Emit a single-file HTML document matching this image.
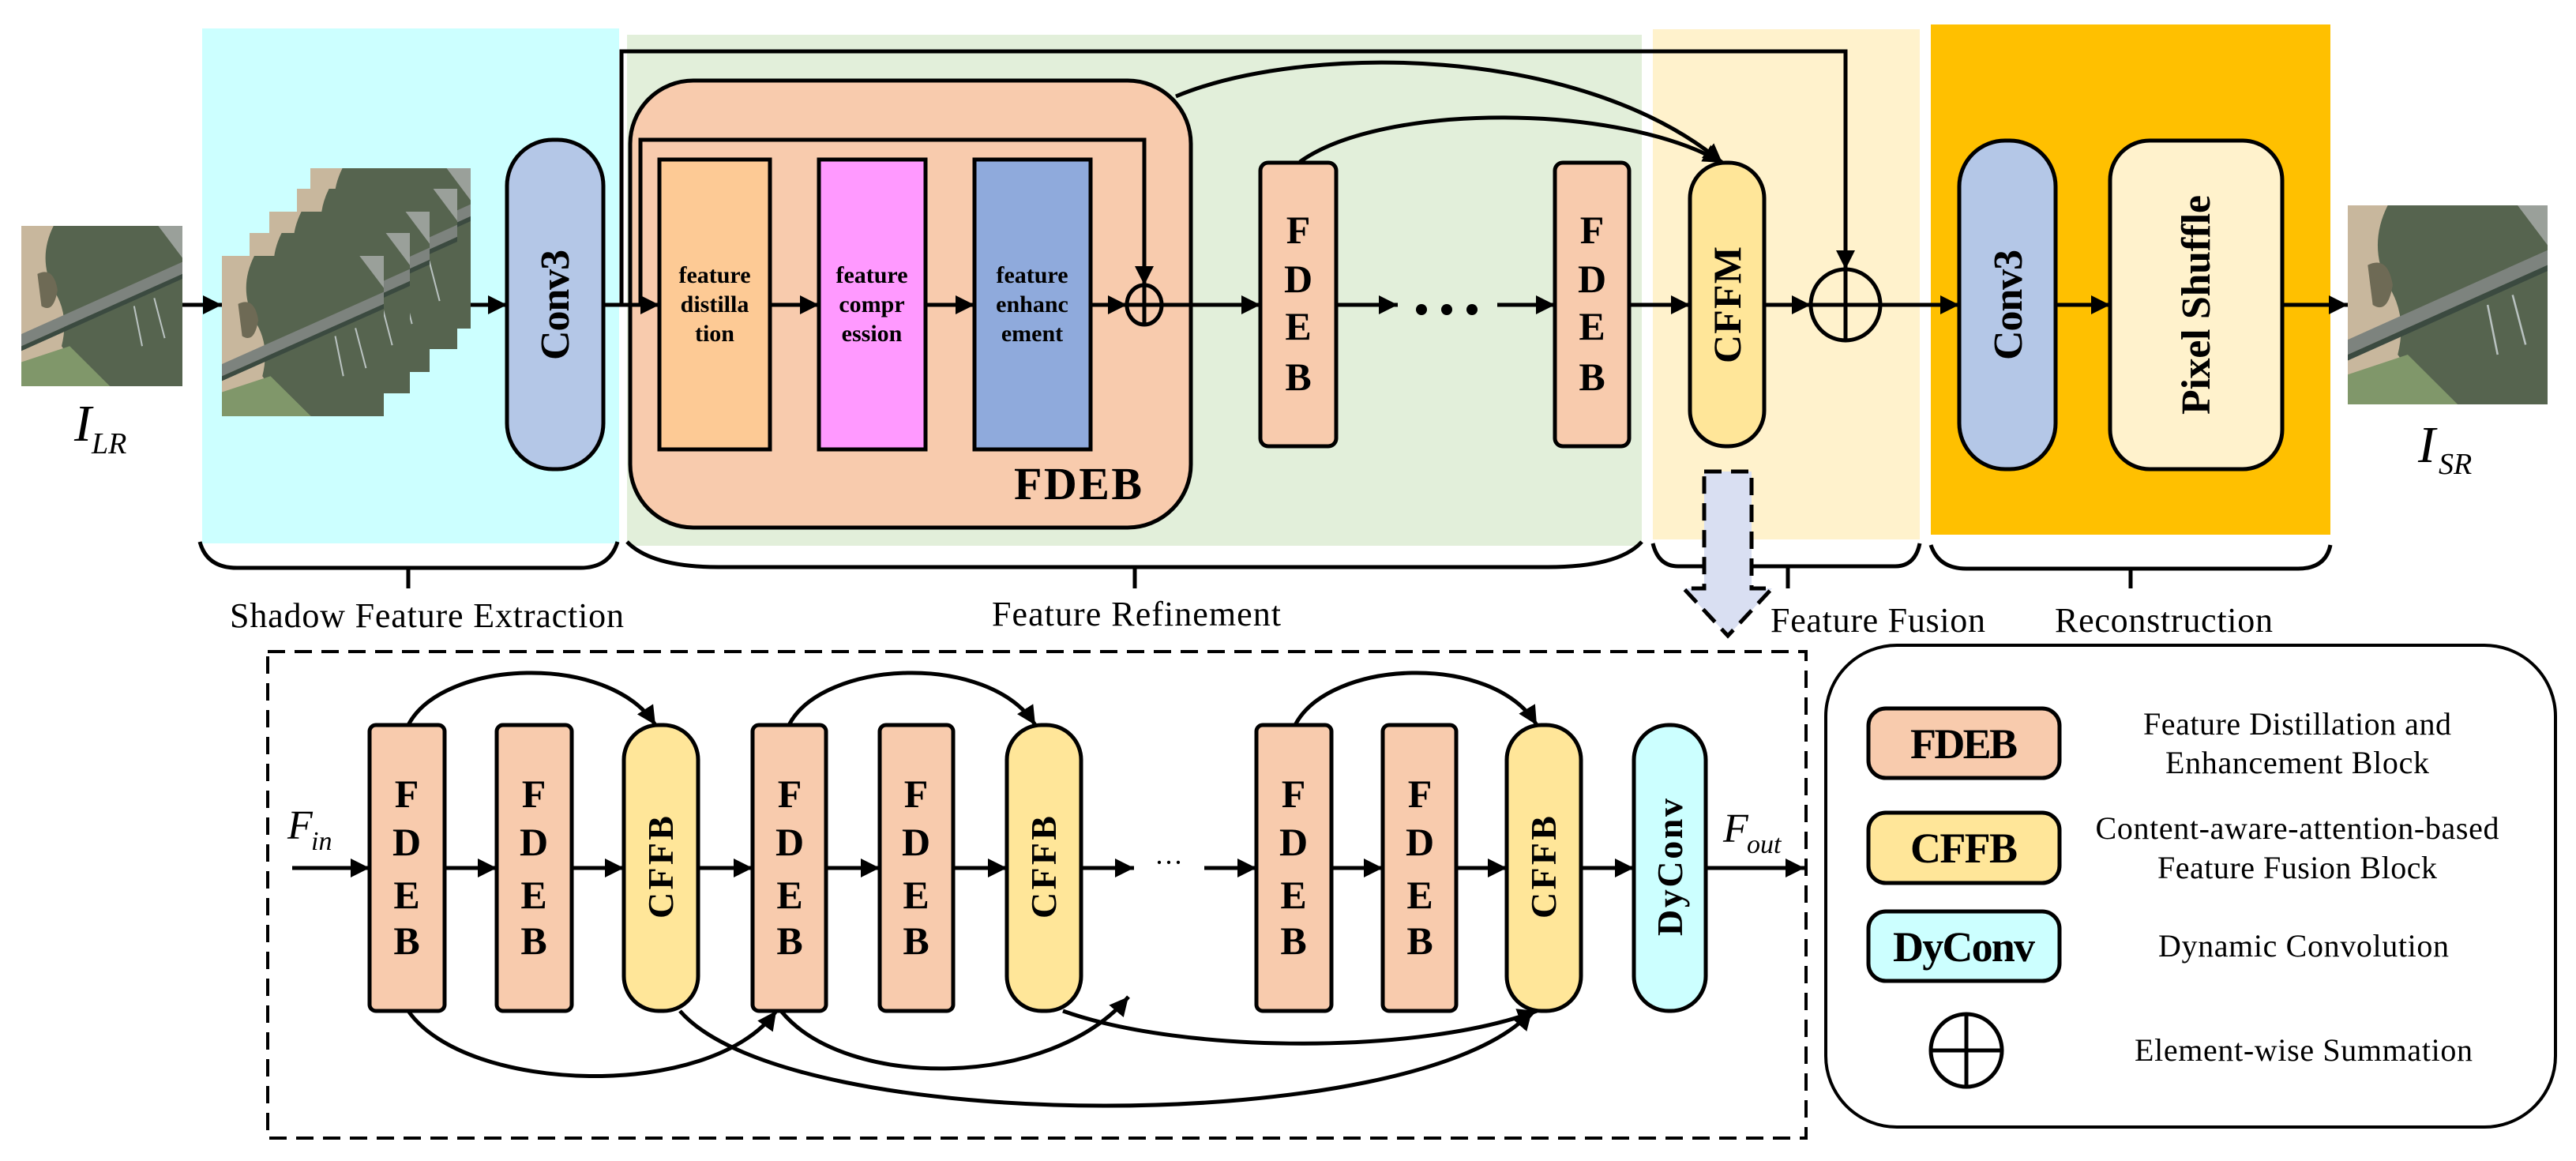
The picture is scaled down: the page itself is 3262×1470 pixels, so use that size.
<!DOCTYPE html>
<html><head><meta charset="utf-8"><style>html,body{margin:0;padding:0;background:#fff}svg{display:block}</style></head>
<body>
<svg width="3262" height="1470" viewBox="0 0 3262 1470" xmlns="http://www.w3.org/2000/svg" font-family="'Liberation Serif', serif">
<defs>
<marker id="ah" viewBox="0 0 10 10" markerUnits="userSpaceOnUse" markerWidth="24" markerHeight="30" refX="10" refY="5" orient="auto"><path d="M0,0 L10,5 L0,10 z" fill="#000"/></marker>
<symbol id="aer" viewBox="0 0 200 200" preserveAspectRatio="none">
<rect width="200" height="200" fill="#56644f"/>
<path d="M0,0 L40,0 Q20,40 40,80 Q60,110 50,150 Q70,180 110,200 L0,200 z" fill="#c8b79d"/>
<path d="M20,60 Q40,50 45,80 Q40,110 25,100 z" fill="#6e6a55"/>
<path d="M0,170 L60,150 L110,200 L0,200 z" fill="#80976a"/>
<path d="M0,135 L200,45 L200,60 L0,150 z" fill="#7d837e"/>
<path d="M0,150 L200,60 L200,66 L0,156 z" fill="#3b4a40"/>
<path d="M170,0 L200,0 L200,40 Q185,20 170,0 z" fill="#9aa09a"/>
<path d="M140,100 L150,150 M165,90 L178,140" stroke="#b9c2c0" stroke-width="2"/>
</symbol>
</defs>

<rect x="256" y="36" width="528" height="652" fill="#ccffff"/>
<rect x="794" y="44" width="1285" height="647" fill="#e2efda"/>
<rect x="2093" y="37" width="338" height="646" fill="#fff2cc"/>
<rect x="2445" y="31" width="506" height="646" fill="#ffc000"/>

<use href="#aer" x="27" y="286" width="204" height="203"/>
<use href="#aer" x="393" y="213" width="203" height="203"/>
<use href="#aer" x="376" y="239" width="203" height="203"/>
<use href="#aer" x="341" y="268" width="203" height="203"/>
<use href="#aer" x="316" y="295" width="203" height="203"/>
<use href="#aer" x="281" y="324" width="205" height="203"/>
<use href="#aer" x="2973" y="260" width="253" height="252"/>

<text x="94" y="558" font-size="66" font-style="italic">I</text>
<text x="116" y="574" font-size="38" font-style="italic">LR</text>
<text x="3062" y="585" font-size="66" font-style="italic">I</text>
<text x="3088" y="600" font-size="38" font-style="italic">SR</text>

<rect x="642" y="177" width="122" height="417" rx="58" fill="#b4c7e7" stroke="#000" stroke-width="5"/>
<text transform="translate(720,386) rotate(-90)" text-anchor="middle" font-size="52" font-weight="bold" textLength="140">Conv3</text>

<rect x="798" y="102" width="710" height="566" rx="80" fill="#f8cbad" stroke="#000" stroke-width="5"/>
<rect x="835" y="202" width="140" height="367" fill="#fdca95" stroke="#000" stroke-width="5"/>
<rect x="1037" y="202" width="135" height="367" fill="#ff99ff" stroke="#000" stroke-width="5"/>
<rect x="1234" y="202" width="147" height="367" fill="#8faadc" stroke="#000" stroke-width="5"/>
<g font-size="30" font-weight="bold" text-anchor="middle">
<text x="905" y="358">feature</text><text x="905" y="395">distilla</text><text x="905" y="432">tion</text>
<text x="1104" y="358">feature</text><text x="1104" y="395">compr</text><text x="1104" y="432">ession</text>
<text x="1307" y="358">feature</text><text x="1307" y="395">enhanc</text><text x="1307" y="432">ement</text>
</g>
<text x="1365" y="632" text-anchor="middle" font-size="58" font-weight="bold" textLength="162">FDEB</text>

<rect x="1596" y="206" width="96" height="359" rx="10" fill="#f8cbad" stroke="#000" stroke-width="5"/>
<rect x="1969" y="206" width="94" height="359" rx="10" fill="#f8cbad" stroke="#000" stroke-width="5"/>
<g font-size="50" font-weight="bold" text-anchor="middle">
<text x="1644" y="308">F</text><text x="1644" y="370">D</text><text x="1644" y="430">E</text><text x="1644" y="494">B</text>
<text x="2016" y="308">F</text><text x="2016" y="370">D</text><text x="2016" y="430">E</text><text x="2016" y="494">B</text>
</g>
<g fill="#000"><circle cx="1800" cy="392" r="7"/><circle cx="1832" cy="392" r="7"/><circle cx="1864" cy="392" r="7"/></g>

<rect x="2140" y="206" width="94" height="359" rx="45" fill="#ffe699" stroke="#000" stroke-width="5"/>
<text transform="translate(2204,386) rotate(-90)" text-anchor="middle" font-size="50" font-weight="bold" textLength="148">CFFM</text>

<rect x="2481" y="178" width="122" height="416" rx="58" fill="#b4c7e7" stroke="#000" stroke-width="5"/>
<text transform="translate(2560,386) rotate(-90)" text-anchor="middle" font-size="52" font-weight="bold" textLength="140">Conv3</text>
<rect x="2672" y="178" width="218" height="416" rx="50" fill="#fff2cc" stroke="#000" stroke-width="5"/>
<text transform="translate(2798,386) rotate(-90)" text-anchor="middle" font-size="52" font-weight="bold" textLength="278">Pixel Shuffle</text>

<g stroke="#000" stroke-width="5" fill="none">
<line x1="231" y1="386" x2="281" y2="386" marker-end="url(#ah)"/>
<line x1="596" y1="386" x2="642" y2="386" marker-end="url(#ah)"/>
<line x1="764" y1="386" x2="835" y2="386" marker-end="url(#ah)"/>
<line x1="975" y1="386" x2="1037" y2="386" marker-end="url(#ah)"/>
<line x1="1172" y1="386" x2="1234" y2="386" marker-end="url(#ah)"/>
<line x1="1381" y1="386" x2="1427" y2="386" marker-end="url(#ah)"/>
<line x1="1471" y1="386" x2="1596" y2="386" marker-end="url(#ah)"/>
<line x1="1692" y1="386" x2="1770" y2="386" marker-end="url(#ah)"/>
<line x1="1896" y1="386" x2="1969" y2="386" marker-end="url(#ah)"/>
<line x1="2063" y1="386" x2="2140" y2="386" marker-end="url(#ah)"/>
<line x1="2234" y1="386" x2="2293" y2="386" marker-end="url(#ah)"/>
<line x1="2381" y1="386" x2="2481" y2="386" marker-end="url(#ah)"/>
<line x1="2603" y1="386" x2="2672" y2="386" marker-end="url(#ah)"/>
<line x1="2890" y1="386" x2="2973" y2="386" marker-end="url(#ah)"/>
<path d="M787 386 L787 65 L2337 65 L2337 341" marker-end="url(#ah)"/>
<path d="M811 386 L811 177 L1449 177 L1449 361" marker-end="url(#ah)"/>
<ellipse cx="1449" cy="386" rx="22" ry="25"/>
<line x1="1427" y1="386" x2="1471" y2="386"/><line x1="1449" y1="361" x2="1449" y2="411"/>
<ellipse cx="2337" cy="386" rx="44" ry="45"/>
<line x1="2293" y1="386" x2="2381" y2="386"/><line x1="2337" y1="341" x2="2337" y2="431"/>
<path d="M1489 122 C1650 55, 2000 55, 2181 206" marker-end="url(#ah)"/>
<path d="M1646 205 C1750 130, 2050 130, 2181 206" marker-end="url(#ah)"/>
<path d="M253 686 Q262 719 300 719 L735 719 Q772 719 782 686 M517 719 L517 745"/>
<path d="M794 686 Q825 718 910 718 L1960 718 Q2050 718 2079 686 M1437 718 L1437 745"/>
<path d="M2093 688 Q2100 717 2125 717 L2400 717 Q2425 717 2431 688 M2264 717 L2264 745"/>
<path d="M2445 690 Q2455 720 2490 720 L2910 720 Q2945 720 2951 690 M2698 720 L2698 745"/>
</g>

<path d="M2158 597 L2218 597 L2218 745 L2244 745 L2188 805 L2132 745 L2158 745 z" fill="#d9dff2" stroke="#000" stroke-width="5" stroke-dasharray="22,12"/>

<g font-size="44">
<text x="291" y="794" textLength="499">Shadow Feature Extraction</text>
<text x="1256" y="792" textLength="366">Feature Refinement</text>
<text x="2242" y="800" textLength="272">Feature Fusion</text>
<text x="2602" y="800" textLength="276">Reconstruction</text>
</g>

<rect x="339" y="825" width="1948" height="616" fill="none" stroke="#000" stroke-width="4" stroke-dasharray="22,12"/>

<g stroke="#000" stroke-width="5">
<rect x="468" y="918" width="95" height="362" rx="8" fill="#f8cbad"/>
<rect x="629" y="918" width="95" height="362" rx="8" fill="#f8cbad"/>
<rect x="790" y="918" width="94" height="362" rx="44" fill="#ffe699"/>
<rect x="953" y="918" width="93" height="362" rx="8" fill="#f8cbad"/>
<rect x="1114" y="918" width="93" height="362" rx="8" fill="#f8cbad"/>
<rect x="1275" y="918" width="94" height="362" rx="44" fill="#ffe699"/>
<rect x="1591" y="918" width="95" height="362" rx="8" fill="#f8cbad"/>
<rect x="1751" y="918" width="93" height="362" rx="8" fill="#f8cbad"/>
<rect x="1908" y="918" width="94" height="362" rx="44" fill="#ffe699"/>
<rect x="2069" y="918" width="91" height="362" rx="44" fill="#ccffff"/>
</g>
<g font-size="50" font-weight="bold" text-anchor="middle">
<g transform="translate(515,0)"><text y="1022">F</text><text y="1083">D</text><text y="1150">E</text><text y="1208">B</text></g>
<g transform="translate(676,0)"><text y="1022">F</text><text y="1083">D</text><text y="1150">E</text><text y="1208">B</text></g>
<g transform="translate(1000,0)"><text y="1022">F</text><text y="1083">D</text><text y="1150">E</text><text y="1208">B</text></g>
<g transform="translate(1160,0)"><text y="1022">F</text><text y="1083">D</text><text y="1150">E</text><text y="1208">B</text></g>
<g transform="translate(1638,0)"><text y="1022">F</text><text y="1083">D</text><text y="1150">E</text><text y="1208">B</text></g>
<g transform="translate(1798,0)"><text y="1022">F</text><text y="1083">D</text><text y="1150">E</text><text y="1208">B</text></g>
</g>
<g font-size="46" font-weight="bold" text-anchor="middle">
<text transform="translate(852,1098) rotate(-90)" textLength="130">CFFB</text>
<text transform="translate(1337,1098) rotate(-90)" textLength="130">CFFB</text>
<text transform="translate(1970,1098) rotate(-90)" textLength="130">CFFB</text>
<text transform="translate(2130,1098) rotate(-90)" textLength="174">DyConv</text>
</g>
<text x="1480" y="1104" font-size="36" text-anchor="middle">···</text>
<text x="364" y="1062" font-size="52" font-style="italic">F</text><text x="394" y="1076" font-size="34" font-style="italic">in</text>
<text x="2182" y="1066" font-size="52" font-style="italic">F</text><text x="2212" y="1080" font-size="34" font-style="italic">out</text>

<g stroke="#000" stroke-width="5" fill="none">
<line x1="370" y1="1099" x2="468" y2="1099" marker-end="url(#ah)"/>
<line x1="563" y1="1099" x2="629" y2="1099" marker-end="url(#ah)"/>
<line x1="724" y1="1099" x2="790" y2="1099" marker-end="url(#ah)"/>
<line x1="884" y1="1099" x2="953" y2="1099" marker-end="url(#ah)"/>
<line x1="1046" y1="1099" x2="1114" y2="1099" marker-end="url(#ah)"/>
<line x1="1207" y1="1099" x2="1275" y2="1099" marker-end="url(#ah)"/>
<line x1="1369" y1="1099" x2="1436" y2="1099" marker-end="url(#ah)"/>
<line x1="1525" y1="1099" x2="1591" y2="1099" marker-end="url(#ah)"/>
<line x1="1686" y1="1099" x2="1751" y2="1099" marker-end="url(#ah)"/>
<line x1="1844" y1="1099" x2="1908" y2="1099" marker-end="url(#ah)"/>
<line x1="2002" y1="1099" x2="2069" y2="1099" marker-end="url(#ah)"/>
<line x1="2160" y1="1099" x2="2285" y2="1099" marker-end="url(#ah)"/>
<path d="M517 918 C560 835, 770 825, 830 918" marker-end="url(#ah)"/>
<path d="M999 918 C1042 835, 1252 825, 1311 918" marker-end="url(#ah)"/>
<path d="M1640 918 C1683 835, 1890 825, 1946 918" marker-end="url(#ah)"/>
<path d="M517 1280 C590 1385, 900 1395, 983 1280" marker-end="url(#ah)"/>
<path d="M861 1280 C1000 1440, 1800 1440, 1940 1280" marker-end="url(#ah)"/>
<path d="M989 1280 C1070 1380, 1330 1380, 1429 1262" marker-end="url(#ah)"/>
<path d="M1346 1280 C1500 1335, 1800 1335, 1946 1280" marker-end="url(#ah)"/>
</g>

<rect x="2312" y="817" width="924" height="610" rx="90" fill="#fff" stroke="#000" stroke-width="4"/>
<g stroke="#000" stroke-width="5">
<rect x="2366" y="897" width="242" height="88" rx="22" fill="#f8cbad"/>
<rect x="2366" y="1029" width="242" height="89" rx="22" fill="#ffe699"/>
<rect x="2366" y="1154" width="242" height="88" rx="22" fill="#ccffff"/>
<g fill="none"><ellipse cx="2490" cy="1330" rx="45" ry="46"/><line x1="2445" y1="1330" x2="2535" y2="1330"/><line x1="2490" y1="1284" x2="2490" y2="1376"/></g>
</g>
<g font-size="54" font-weight="bold" text-anchor="middle">
<text x="2487" y="960" textLength="136">FDEB</text>
<text x="2487" y="1092" textLength="136">CFFB</text>
<text x="2487" y="1217" textLength="180">DyConv</text>
</g>
<g font-size="40" text-anchor="middle">
<text x="2909" y="930" textLength="390">Feature Distillation and</text>
<text x="2909" y="979" textLength="334">Enhancement Block</text>
<text x="2909" y="1062" textLength="511">Content-aware-attention-based</text>
<text x="2909" y="1112" textLength="354">Feature Fusion Block</text>
<text x="2917" y="1211" textLength="368">Dynamic Convolution</text>
<text x="2917" y="1343" textLength="428">Element-wise Summation</text>
</g>
</svg>
</body></html>
